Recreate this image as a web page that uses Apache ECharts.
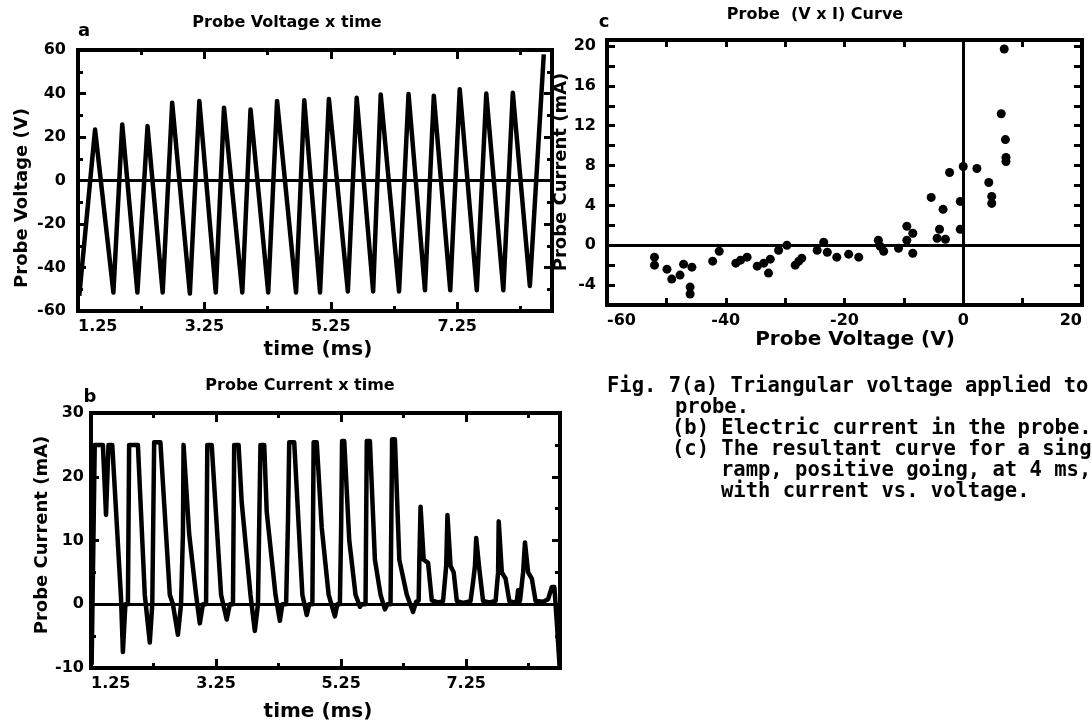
<!DOCTYPE html>
<html><head><meta charset="utf-8">
<script src="https://cdn.jsdelivr.net/npm/echarts@6/dist/echarts.min.js"></script>
<style>html,body{margin:0;padding:0;background:#fff}#c{width:1092px;height:726px}</style>
</head><body><div id="c"></div>
<script>
// ---- Panel a: probe voltage vs time (ms, V) ----
const timeA = [1.27, 1.52, 1.81, 1.95, 2.19, 2.35, 2.59, 2.74, 3.02, 3.17, 3.43, 3.56, 3.85, 3.98, 4.26, 4.40, 4.70, 4.83, 5.08, 5.22, 5.52, 5.66, 5.92, 6.04, 6.33, 6.48, 6.74, 6.88, 7.14, 7.29, 7.56, 7.71, 7.98, 8.13, 8.40, 8.62];
const voltA = [-53, 23.5, -51.5, 25.8, -51.5, 25.0, -51.5, 35.8, -52, 36.6, -51.5, 33.5, -51.5, 32.7, -51.5, 36.6, -51.5, 36.9, -51.5, 37.5, -51, 38.0, -51, 39.5, -51, 39.8, -50.5, 39.0, -50.5, 42.0, -50.5, 40.0, -50.5, 40.4, -48.5, 58];

// ---- Panel b: probe current vs time (ms, mA) ----
const timeB = [1.26,1.31,1.44,1.49,1.53,1.59,1.73,1.76,1.80, 1.84,1.86,2.00,2.11,2.19,2.23, 2.24,2.26,2.36,2.51,2.56,2.64,2.69, 2.70,2.72,2.73,2.76,2.82,2.93,2.99,3.04, 3.09,3.11,3.18,3.33,3.42,3.47, 3.52,3.54,3.61,3.66,3.80,3.87,3.92, 3.94,3.96,4.02,4.06,4.20,4.27,4.31, 4.37,4.40,4.42,4.50,4.63,4.70,4.74, 4.79,4.81,4.86,4.94,5.05,5.15,5.19, 5.23,5.25,5.265,5.30,5.38,5.48,5.55,5.58, 5.64,5.66,5.71,5.79,5.88,5.95,5.99, 6.04,6.065,6.11,6.18,6.30,6.40,6.45, 6.49,6.50,6.52,6.55,6.57,6.64,6.70,6.80, 6.88,6.93,6.95,6.98,7.00,7.05,7.10,7.20, 7.32,7.36,7.39,7.41,7.44,7.46,7.52,7.62, 7.72,7.76,7.77,7.80,7.82,7.88,7.94,8.02, 8.06,8.08,8.11,8.16,8.19,8.22,8.24,8.30,8.36,8.48, 8.56,8.62,8.66,8.70,8.745];
const currB = [-9.5,25,25,14,25,25,1,-7.5,0, 0,25,25,1.5,-6,0, 0,25.4,25.4,1.5,0,-4.8,0, 0,11,25,25,11,1.5,-3,0, 0,25,25,1.5,-2.4,0, 0,25,25,16,1.5,-4.2,0, 0,25,25,14.5,1.5,-2.6,0, 0,13,25.4,25.4,1.5,-1.7,0, 0,25.4,25.4,12,1.5,-1.9,0, 0,12,25.6,25.6,10,1.5,-0.4,0, 0,25.6,25.6,7,1.5,-0.8,0, 0,25.9,25.9,7,1.5,-1.2,0.4, 0.6,6.5,15.3,15.3,7,6.5,0.6,0.3, 0.5,6,14,14,6,5,0.5,0.2, 0.5,3.5,6,10.4,10.4,5.5,0.5,0.3, 0.5,5,13,13,5,4,0.5,0.3, 0.5,2.2,0.5,5,9.7,9.7,5,4,0.5,0.4, 0.8,2.7,2.7,-3,-10];

// ---- Panel c: probe (V x I) curve (V, mA) ----
const voltC = [-52.0,-52.0,-49.9,-49.1,-47.7,-47.1,-45.7,-46.0,-46.0,-42.2,-41.1,-38.3,-37.5,-36.4,-34.7,-33.6,-32.5,-32.8,-31.1,-29.7,-28.3,-27.7,-27.2,-24.6,-23.5,-22.9,-21.3,-19.3,-17.6,-14.3,-14.0,-13.4,-10.9,-9.5,-8.5,-9.5,-8.5,-4.4,-3.0,-4.0,-5.4,-3.4,-2.3,-0.5,-0.5,0,2.3,4.3,4.8,4.8,6.9,6.4,7.1,7.2,7.2];
const currC = [-1.2,-2.0,-2.4,-3.4,-3.0,-1.9,-2.2,-4.2,-4.9,-1.6,-0.6,-1.8,-1.5,-1.2,-2.1,-1.8,-1.4,-2.8,-0.5,0,-2.0,-1.6,-1.3,-0.5,0.3,-0.7,-1.2,-0.9,-1.2,0.5,-0.1,-0.6,-0.3,0.5,-0.8,1.9,1.2,0.7,0.6,1.6,4.8,3.6,7.3,4.4,1.6,7.9,7.7,6.3,4.9,4.2,19.7,13.2,10.6,8.8,8.4];

// ---- tick labels ----
const timeMajor = [1.25, 3.25, 5.25, 7.25];
const timeMinor = [2.25, 4.25, 6.25, 8.25];

const FONT = '"DejaVu Sans"';
const lbl = {color:'#000', fontFamily:FONT, fontWeight:'bold', fontSize:16};
const tickStyle = {color:'#000', width:3};
const noLine = {show:false, onZero:false};

function xTime(gi, pos, ticks, len, withLabels){
  return {type:'value', gridIndex:gi, position:pos, min:1.25, max:8.75,
    axisLine:noLine, splitLine:{show:false},
    axisTick:{show:true, inside:true, length:len, customValues:ticks, lineStyle:tickStyle},
    axisLabel: withLabels ? Object.assign({show:true, customValues:timeMajor, margin:8, alignMinLabel:'left',
      formatter:v=>Number(v).toFixed(2)}, lbl) : {show:false}};
}
function yVal(gi, pos, min, max, interval, minorSplit, fmt, margin){
  return {type:'value', gridIndex:gi, position:pos, min:min, max:max, interval:interval,
    axisLine:noLine, splitLine:{show:false}, minorSplitLine:{show:false},
    axisTick:{show:true, inside:true, length:8, lineStyle:tickStyle},
    minorTick:{show:minorSplit>0, splitNumber:minorSplit||5, length:5, lineStyle:tickStyle},
    axisLabel: fmt ? Object.assign({show:true, margin:margin, formatter:fmt}, lbl) : {show:false}};
}
function xVolt(pos, withLabels){
  return {type:'value', gridIndex:2, position:pos, min:-60, max:20, interval:10,
    axisLine:noLine, splitLine:{show:false},
    axisTick:{show:true, inside:true, length:7, lineStyle:tickStyle},
    axisLabel: withLabels ? Object.assign({show:true, margin:8, alignMinLabel:'left', alignMaxLabel:'right',
      formatter:v=>(Math.abs(v%20)<1e-6 ? String(v) : '')}, lbl) : {show:false}};
}

const zeroMark = (arr)=>({silent:true, symbol:['none','none'], animation:false,
  lineStyle:{color:'#000', width:3, type:'solid'}, label:{show:false}, emphasis:{disabled:true}, data:arr});

function txt(x, y, text, font, opts){
  return Object.assign({type:'text', x:x, y:y, silent:true,
    style:{text:text, font:font, fill:'#000', textAlign:'center', textVerticalAlign:'middle', align:'center', verticalAlign:'middle'}}, opts||{});
}
function ltxt(x, y, text){
  return {type:'text', x:x, y:y, silent:true,
    style:{text:text, font:'bold 20.5px "DejaVu Sans Mono"', fill:'#000', textAlign:'left', textVerticalAlign:'middle', align:'left', verticalAlign:'middle'}};
}

const gridBase = {show:true, borderColor:'#000', borderWidth:4, backgroundColor:'transparent', containLabel:false};

const option = {
  animation:false,
  backgroundColor:'#fff',
  grid:[
    Object.assign({left:78, top:50, width:474, height:261}, gridBase),
    Object.assign({left:91, top:413, width:469, height:255}, gridBase),
    Object.assign({left:607, top:40, width:475, height:265}, gridBase)
  ],
  xAxis:[
    xTime(0,'bottom',timeMajor,9,true), xTime(0,'bottom',timeMinor,5,false),
    xTime(0,'top',timeMajor,9,false), xTime(0,'top',timeMinor,5,false),
    xTime(1,'bottom',timeMajor,9,true), xTime(1,'bottom',timeMinor,5,false),
    xTime(1,'top',timeMajor,9,false), xTime(1,'top',timeMinor,5,false),
    xVolt('bottom',true), xVolt('top',false)
  ],
  yAxis:[
    yVal(0,'left',-60,60,20,2,v=>String(v),12), yVal(0,'right',-60,60,20,2,null),
    yVal(1,'left',-10,30,10,2,v=>String(v),7), yVal(1,'right',-10,30,10,2,null),
    yVal(2,'left',-6,20.6,2,0,v=>(Math.abs(v%4)<1e-6 ? String(v) : ''),11), yVal(2,'right',-6,20.6,2,0,null)
  ],
  series:[
    {type:'line', xAxisIndex:0, yAxisIndex:0, data:timeA.map((t,i)=>[t,voltA[i]]),
      symbol:'none', showSymbol:false, clip:true, lineStyle:{color:'#000', width:4.5, join:'round'},
      markLine:zeroMark([{yAxis:0}])},
    {type:'line', xAxisIndex:4, yAxisIndex:2, data:timeB.map((t,i)=>[t,currB[i]]),
      symbol:'none', showSymbol:false, clip:true, lineStyle:{color:'#000', width:4.5, join:'round'},
      markLine:zeroMark([{yAxis:0}])},
    {type:'scatter', xAxisIndex:8, yAxisIndex:4, data:voltC.map((v,i)=>[v,currC[i]]),
      symbol:'circle', symbolSize:9, itemStyle:{color:'#000', opacity:1},
      markLine:zeroMark([{xAxis:0},{yAxis:0}])}
  ],
  graphic:[
    txt(84, 31, 'a', 'bold 18px '+FONT),
    txt(287, 23, 'Probe Voltage x time', 'bold 16px '+FONT),
    txt(318, 350, 'time (ms)', 'bold 20px '+FONT),
    txt(22, 198, 'Probe Voltage (V)', 'bold 18px '+FONT, {rotation:Math.PI/2}),
    txt(90, 397, 'b', 'bold 18px '+FONT),
    txt(300, 386, 'Probe Current x time', 'bold 16px '+FONT),
    txt(318, 712, 'time (ms)', 'bold 20px '+FONT),
    txt(42, 535, 'Probe Current (mA)', 'bold 18px '+FONT, {rotation:Math.PI/2}),
    txt(604, 22, 'c', 'bold 18px '+FONT),
    txt(815, 15, 'Probe  (V x I) Curve', 'bold 16px '+FONT),
    txt(855, 340, 'Probe Voltage (V)', 'bold 20px '+FONT),
    txt(561, 172, 'Probe Current (mA)', 'bold 18px '+FONT, {rotation:Math.PI/2}),
    ltxt(607, 387, 'Fig. 7(a) Triangular voltage applied to'),
    ltxt(675, 408, 'probe.'),
    ltxt(672, 429, '(b) Electric current in the probe.'),
    ltxt(672, 450, '(c) The resultant curve for a single'),
    ltxt(721, 471, 'ramp, positive going, at 4 ms,'),
    ltxt(721, 492, 'with current vs. voltage.')
  ]
};
const chart = echarts.init(document.getElementById('c'), null, {renderer:'canvas'});
chart.setOption(option);
</script></body></html>
